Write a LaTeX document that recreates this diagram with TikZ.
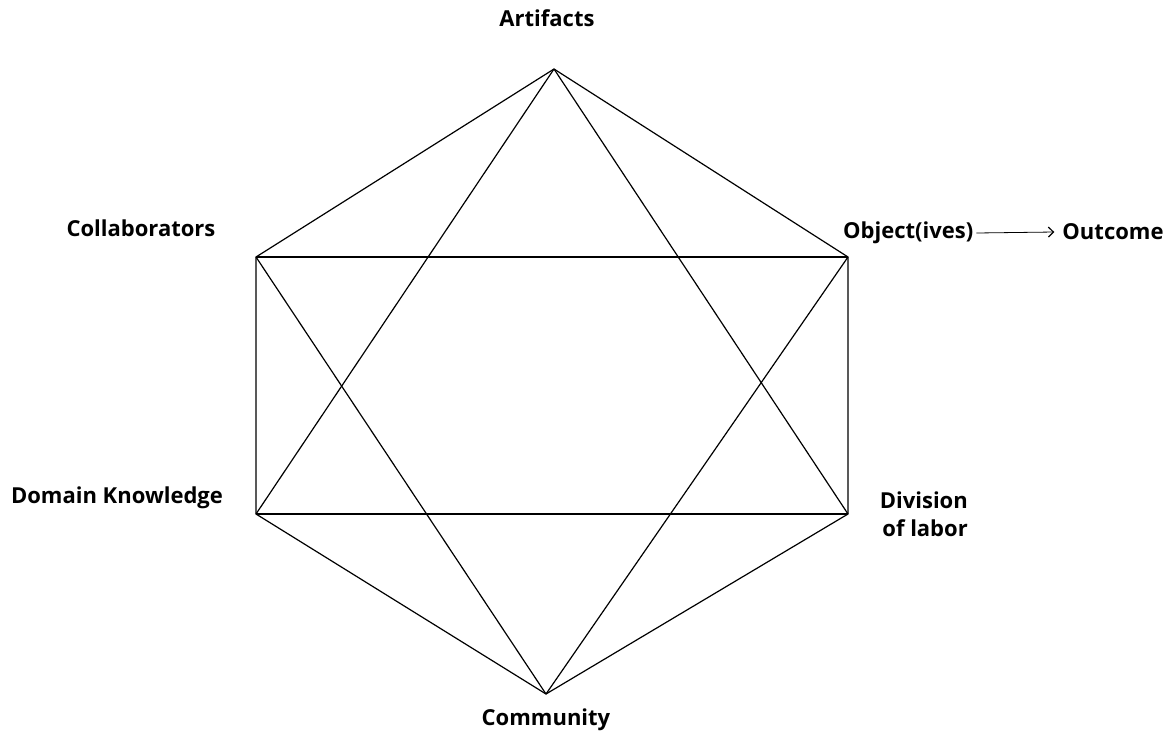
\documentclass[tikz,border=0pt]{standalone}
\usepackage{fontspec}
\setmainfont{Open Sans}
\usetikzlibrary{arrows.meta}
\tikzset{corner label/.style={font=\fontsize{22}{28}\selectfont\bfseries,inner sep=0pt}}
\tikzset{edge/.style={draw,line width=1.2pt,line join=miter}}
\begin{document}
\begin{tikzpicture}
      [
      x=1pt,y=-1pt,
      ]
      \useasboundingbox (0,0) rectangle (1167,734);

      % vertices
      \foreach \n/\x/\y in
      {
      art/554/69,
      col/256/257,
      obj/848/257,
      dom/256/514,
      div/848/514,
      com/546/694
      }
      {
      \coordinate (V\n) at (\x,\y);
      }

      % labels
      \node [corner label] (Lart) at (547,18) {Artifacts};
      \node [corner label] (Lcol) at (141,228) {Collaborators};
      \node [corner label,anchor=west] (Lobj) at (843,233) {Object(ives)};
      \node [corner label] (Lout) at (1113,232) {Outcome};
      \node [corner label] (Ldom) at (117,498) {Domain Knowledge};
      \node [corner label,align=right,anchor=east] (Ldiv) at (968,514) {Division\\of labor};
      \node [corner label] (Lcom) at (546,720) {Community};

      % hexagon
      \path [edge] (Vart) -- (Vobj) -- (Vdiv) -- (Vcom) -- (Vdom) -- (Vcol) -- cycle;

      % horizontals
      \path [edge] (Vcol) -- (Vobj);
      \path [edge] (Vdom) -- (Vdiv);

      % triangles
      \path [edge] (Vart) -- (Vdom);
      \path [edge] (Vart) -- (Vdiv);
      \path [edge] (Vcom) -- (Vcol);
      \path [edge] (Vcom) -- (Vobj);

      % outcome
      \draw [line width=0.8pt,-{Straight Barb[length=5pt,width=10pt,line width=1.2pt]}] (Lobj.east) ++(3,0) -- ([xshift=-8pt]Lout.west);

    \end{tikzpicture}
\end{document}
